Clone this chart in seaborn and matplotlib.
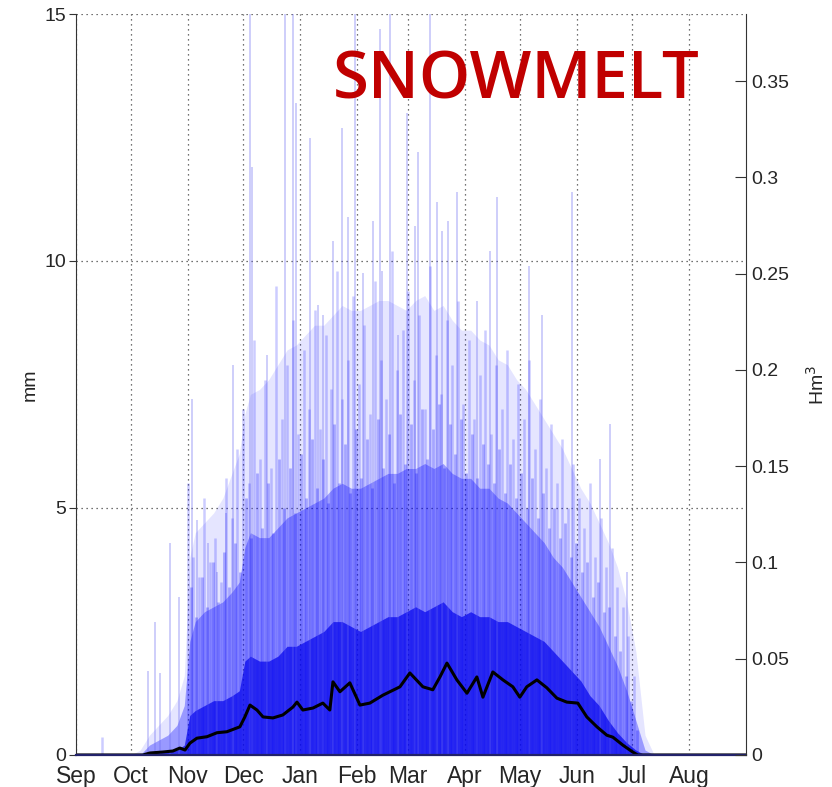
import matplotlib
matplotlib.use("Agg")
import matplotlib.pyplot as plt
import seaborn as sns

# day of hydrological year (0 = 1 Sep)
month_day = [0, 30, 61, 91, 122, 153, 181, 212, 242, 273, 303, 334]
month_lab = ["Sep", "Oct", "Nov", "Dec", "Jan", "Feb", "Mar", "Apr", "May", "Jun", "Jul", "Aug"]

# ensemble mean (black line), mm
mean_day = [0, 36.5, 40.3, 47.4, 52.8, 56.6, 59.4, 62.1, 65.9, 71.4, 76.8, 82.2, 89.3, 92, 94.8,
            98.6, 101.9, 107.3, 112.7, 118.2, 120.4, 123.6, 129.1, 134.5, 138.3, 140, 143.8, 149.2,
            154.7, 160.1, 167.2, 176.5, 181.9, 189, 194.4, 198.3, 202.1, 207.5, 213, 218.4, 221.7,
            227.1, 232.6, 238, 241.8, 245.6, 251.1, 256.5, 262, 267.4, 273.4, 278.3, 283.8, 289.2,
            292.5, 297.9, 303.3, 306, 365]
mean_mm = [0, 0, 0.04, 0.06, 0.08, 0.14, 0.10, 0.24, 0.34, 0.37, 0.45, 0.47, 0.57, 0.77, 1.01,
           0.91, 0.77, 0.75, 0.81, 0.97, 1.07, 0.91, 0.95, 1.05, 0.91, 1.48, 1.28, 1.46, 1.01, 1.05,
           1.21, 1.38, 1.66, 1.38, 1.32, 1.58, 1.86, 1.52, 1.25, 1.58, 1.17, 1.68, 1.52, 1.38, 1.17,
           1.38, 1.52, 1.36, 1.15, 1.07, 1.05, 0.77, 0.57, 0.40, 0.36, 0.20, 0.06, 0, 0]

# envelopes of the ensemble (mm)
knot_day = [30, 35, 40, 45, 50, 55, 59, 62, 65, 70, 75, 80, 85, 89, 92, 95, 100, 105, 110, 115,
            120, 125, 130, 135, 140, 145, 150, 155, 160, 165, 170, 175, 180, 185, 190, 195, 200,
            205, 210, 215, 220, 225, 230, 235, 240, 245, 250, 255, 260, 265, 270, 275, 280, 285,
            290, 295, 300, 305, 310, 315]
core_mm = [0, 0, 0.03, 0.05, 0.08, 0.1, 0.2, 0.8, 0.9, 1.0, 1.1, 1.1, 1.2, 1.3, 1.9, 2.0, 1.9, 1.9,
           2.0, 2.2, 2.2, 2.3, 2.4, 2.5, 2.7, 2.7, 2.6, 2.5, 2.6, 2.7, 2.8, 2.8, 2.9, 3.0, 2.9, 3.0,
           3.1, 2.9, 2.8, 2.9, 2.8, 2.8, 2.7, 2.7, 2.6, 2.5, 2.4, 2.3, 2.1, 1.9, 1.7, 1.5, 1.2, 1.0,
           0.7, 0.45, 0.25, 0.1, 0, 0]
mid_mm = [0, 0, 0.2, 0.3, 0.4, 0.6, 1.0, 2.3, 2.7, 2.9, 3.0, 3.1, 3.3, 3.5, 4.2, 4.5, 4.4, 4.4, 4.6,
          4.8, 4.9, 5.0, 5.1, 5.2, 5.4, 5.5, 5.4, 5.4, 5.5, 5.6, 5.7, 5.7, 5.8, 5.8, 5.9, 5.8, 5.9,
          5.7, 5.6, 5.6, 5.4, 5.4, 5.2, 5.1, 4.9, 4.7, 4.5, 4.3, 4.0, 3.8, 3.5, 3.2, 2.9, 2.6, 2.2,
          1.8, 1.3, 0.7, 0.1, 0]
haze_mm = [0, 0.1, 0.4, 0.6, 0.8, 1.1, 1.6, 4.0, 4.5, 4.7, 4.9, 5.2, 5.7, 6.1, 6.9, 7.3, 7.4, 7.6,
           7.9, 8.2, 8.3, 8.5, 8.7, 8.7, 8.9, 9.1, 9.0, 9.0, 9.1, 9.2, 9.2, 9.1, 9.0, 9.2, 9.3, 9.0,
           9.1, 8.8, 8.6, 8.6, 8.4, 8.3, 8.0, 7.9, 7.6, 7.4, 7.1, 6.8, 6.5, 6.2, 5.8, 5.4, 5.1, 4.7,
           4.3, 3.8, 3.1, 2.1, 0.4, 0]

# lower daily peaks (mm)
low_day = [62.5, 65.5, 68.5, 71.5, 74.5, 77.5, 80.5, 83.5, 86.5, 89.5, 92.5, 95.5, 98.5, 101.5,
           104.5, 107.5, 110.5, 113.5, 116.5, 119.5, 122.5, 125.5, 128.5, 131.5, 134.5, 137.5,
           140.5, 143.5, 146.5, 149.5, 152.5, 155.5, 158.5, 161.5, 164.5, 167.5, 170.5, 173.5,
           176.5, 179.5, 182.5, 185.5, 188.5, 191.5, 194.5, 197.5, 200.5, 203.5, 206.5, 209.5,
           212.5, 215.5, 218.5, 221.5, 224.5, 227.5, 230.5, 233.5, 236.5, 239.5, 242.5, 245.5,
           248.5, 251.5, 254.5, 257.5, 260.5, 263.5, 266.5, 269.5, 272.5, 275.5, 278.5, 281.5,
           284.5, 287.5, 290.5, 293.5, 296.5, 299.5, 302.5, 305.5]
low_mm = [3.4, 2.8, 3.6, 3.0, 3.9, 3.1, 4.1, 3.4, 4.3, 3.7,
          5.2, 4.4, 5.7, 4.6, 5.5, 4.5, 6.0, 5.0, 5.8, 4.9,
          6.1, 5.2, 6.4, 5.4, 6.0, 5.1, 6.7, 5.5, 6.3, 5.3, 6.6,
          5.6, 6.4, 5.4, 6.8, 5.8, 6.5, 5.5, 6.9, 5.9,
          6.7, 5.7, 7.0, 6.0, 6.6, 7.1, 5.8, 6.7, 6.1, 6.8,
          5.7, 6.5, 5.6, 6.3, 5.9, 5.5, 6.2, 5.3, 5.9, 5.2,
          5.7, 5.0, 5.6, 4.8, 5.3, 4.6, 5.0, 4.4, 4.7, 4.0, 4.3,
          3.7, 3.9, 3.2, 3.5, 2.9, 3.0, 2.4, 2.1, 1.6, 1.1, 0.5]

# medium-height daily peaks (mm)
med_day = [14, 61, 64, 67, 70, 73, 76, 79, 82, 85, 88, 91, 94, 97, 100, 103, 106, 109, 112, 115,
           118, 121, 124, 127, 130, 133, 136, 139, 142, 145, 148, 151, 154, 157, 160, 163, 166, 169,
           172, 175, 178, 181, 184, 187, 190, 193, 196, 199, 202, 205, 208, 211, 214, 217, 220, 223,
           226, 229, 232, 235, 238, 241, 244, 247, 250, 253, 256, 259, 262, 265, 268, 271, 274, 277,
           280, 283, 286, 289, 292, 295, 298, 301, 304]
med_mm = [0.36, 5.5, 4.0, 3.6, 5.2, 3.9, 4.4, 3.5, 5.6, 4.8, 6.2, 7.0, 5.5, 8.4, 6.0, 7.6, 5.8, 9.5,
          6.8, 7.9, 8.8, 6.5, 8.2, 7.0, 9.0, 6.6, 8.5, 7.4, 9.8, 7.2, 8.0, 9.3, 7.5, 8.7, 6.9, 9.6,
          8.0, 7.2, 10.2, 7.8, 8.6, 9.4, 7.6, 8.9, 7.0, 9.9, 8.1, 7.3, 8.8, 7.9, 9.2, 7.1, 8.4, 6.8,
          7.7, 8.6, 6.5, 7.9, 7.0, 8.2, 6.4, 7.5, 6.8, 8.0, 6.2, 7.2, 5.8, 6.7, 5.5, 6.4, 5.0, 5.9,
          5.2, 4.6, 5.5, 4.0, 4.8, 3.8, 4.2, 3.4, 3.0, 2.4, 1.6]

# tallest single-year peaks (mm)
peak_day = [39, 43, 46, 51, 56, 63, 66, 72, 77, 82, 85.5, 94.8, 96, 104, 113.8, 118.2, 119.8, 127.5,
            131.8, 134.5, 140, 144.9, 148.1, 152, 156.3, 161.8, 165.6, 166.7, 171, 175.4, 180.3,
            184.6, 186.3, 192.8, 196.6, 199.3, 202.6, 207.5, 218.4, 225.5, 229.3, 246.7, 253.8,
            270.2, 285.4, 290.8, 300.1]
peak_mm = [1.7, 2.7, 1.66, 4.3, 3.2, 7.2, 4.75, 4.3, 3.7, 4.9, 7.9, 15, 11.9, 8.1, 15, 15, 13.2, 12.5,
           9.1, 8.9, 10.4, 12.7, 10.9, 15, 9.75, 10.8, 14.7, 9.8, 15, 8.5, 13.0, 10.7, 12.2, 15, 11.2,
           10.6, 10.8, 11.4, 9.2, 10.2, 11.3, 9.9, 8.9, 11.4, 6.0, 6.7, 3.7]

MM_TO_HM3 = 0.35 / 13.64

sns.set_style("white")
plt.rcParams["font.family"] = ["Liberation Sans", "DejaVu Sans"]

fig = plt.figure(figsize=(8.32, 7.87), dpi=100)
ax = fig.add_axes([0.0913, 0.0407, 0.8053, 0.9415])

blue = "#0000ff"
ax.fill_between(knot_day, 0, haze_mm, color=blue, alpha=0.1, lw=0)
ax.vlines(peak_day, 0, peak_mm, color="#6a6af0", alpha=0.35, lw=1.3)
ax.vlines(med_day, 0, med_mm, color=blue, alpha=0.2, lw=1.8)
ax.fill_between(knot_day, 0, mid_mm, color=blue, alpha=0.33, lw=0)
ax.vlines(low_day, 0, low_mm, color=blue, alpha=0.28, lw=2.0)
ax.fill_between(knot_day, 0, core_mm, color="#0808e8", alpha=0.72, lw=0)

sns.lineplot(x=mean_day, y=mean_mm, color="black", lw=2.2, ax=ax)

ax.set_xlim(0, 365)
ax.set_ylim(0, 15)
ax.set_xticks(month_day)
ax.set_xticklabels(month_lab)
ax.set_yticks([0, 5, 10, 15])
ax.set_yticklabels(["0", "5", "10", "15"])
ax.set_ylabel("mm", fontsize=14)
ax.grid(True, color="#444444", linestyle=(0, (1, 3)), lw=0.9)
ax.tick_params(axis="y", direction="out", length=5, color="#333333", labelsize=14, pad=2)
ax.tick_params(axis="x", direction="in", length=5, color="#333333", labelsize=16.5, pad=7)
ax.spines["top"].set_visible(False)
ax.spines["right"].set_visible(False)
ax.spines["left"].set_color("#333333")
ax.spines["bottom"].set_color("#22226a")
ax.spines["bottom"].set_linewidth(1.6)

ax2 = ax.twinx()
ax2.set_ylim(0, 15 * MM_TO_HM3)
ax2.set_yticks([0, 0.05, 0.1, 0.15, 0.2, 0.25, 0.3, 0.35])
ax2.set_yticklabels(["0", "0.05", "0.1", "0.15", "0.2", "0.25", "0.3", "0.35"])
ax2.set_ylabel("Hm$^3$", fontsize=14, labelpad=12)
ax2.tick_params(axis="y", direction="in", length=8, labelsize=14, color="#333333")
ax2.spines["top"].set_visible(False)
ax2.spines["left"].set_visible(False)
ax2.spines["bottom"].set_visible(False)
ax2.spines["right"].set_color("#333333")
ax2.grid(False)

ax.text(0.657, 0.908, "SNOWMELT", transform=ax.transAxes, ha="center", va="center",
        fontsize=47, color="#c00000", family="Open Sans", fontweight="semibold")

fig.savefig("out.png", dpi=100)
